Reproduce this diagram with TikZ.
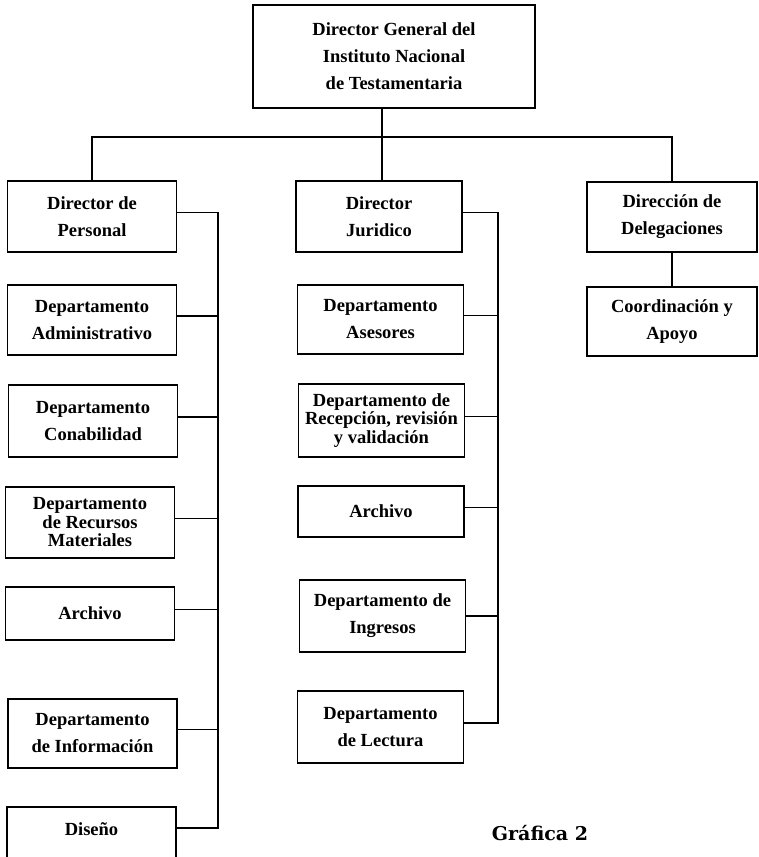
\documentclass[tikz,border=0pt]{standalone}
\usepackage{fontspec}
\setmainfont{Liberation Serif}
\newfontfamily\grafont{DejaVu Serif}
\begin{document}
\begin{tikzpicture}[x=1pt,y=-1pt,
  box/.style={draw, line width=1.5pt, inner sep=0pt, outer sep=0pt, align=center,
    font=\bfseries\fontsize{18.5}{27}\selectfont},
  tight/.style={font=\bfseries\fontsize{18.5}{18.5}\selectfont},
  link/.style={line width=1.5pt},
  lcol/.style={box, minimum width=169},
  mcol/.style={box, minimum width=166},
  rcol/.style={box, minimum width=170}]
\useasboundingbox (0,0) rectangle (758,857);
\clip (0,0) rectangle (758,857);

\node[box, minimum width=282, minimum height=103] (top) at (394,56.5)
  {Director General del\\Instituto Nacional\\de Testamentaria};

% left column
\node[lcol, minimum height=71] (per) at (92,216.5) {Director de\\Personal};
\node[lcol, minimum height=70] (adm) at (92,320) {Departamento\\Administrativo};
\node[lcol, minimum height=72] (con) at (93,421) {Departamento\\Conabilidad};
\node[lcol, tight, minimum height=71] (mat) at (90,522.5) {Departamento\\de Recursos\\Materiales};
\node[lcol, minimum height=53] (arc) at (90,613.5) {Archivo};
\node[lcol, minimum height=69] (inf) at (92.5,733.5) {Departamento\\de Información};
\node[lcol, minimum height=55] (dis) at (91.5,834.5) {};
\node[font=\bfseries\fontsize{18.5}{27}\selectfont] (distxt) at (91.5,829) {Diseño};

% middle column
\node[mcol, minimum height=71] (jur) at (379,216.5) {Director\\Juridico};
\node[mcol, minimum height=69] (ases) at (380.5,319.5) {Departamento\\Asesores};
\node[mcol, tight, minimum height=73] (rec) at (381.5,420.5) {Departamento de\\Recepción, revisión\\y validación};
\node[mcol, minimum height=51] (arc2) at (381,511.5) {Archivo};
\node[mcol, minimum height=72] (ing) at (382.5,616) {Departamento de\\Ingresos};
\node[mcol, minimum height=72] (lec) at (380.5,727) {Departamento\\de Lectura};

% right column
\node[rcol, minimum height=70] (del) at (672,217) {Dirección de\\Delegaciones};
\node[rcol, minimum height=69] (coo) at (672,321.5) {Coordinación y\\Apoyo};

% connectors
\coordinate (bus) at (382,137);
\coordinate (lv) at (218,0);
\coordinate (mv) at (498,0);
\draw[link] (top.south -| bus) -- (bus);
\draw[link] (bus) -- (jur.north -| bus);
\draw[link] (per.north) |- (bus) -| (del.north);
\draw[link] (del.south) -- (coo.north);

\draw[link] ([yshift=4pt]per.east) -- ([yshift=4pt]per.east -| lv)
  -- ([yshift=6.5pt]dis.east -| lv) -- ([yshift=6.5pt]dis.east);
\foreach \n in {adm,con,mat,arc,inf}
  \draw[link] ([yshift=4pt]\n.east) -- ([yshift=4pt]\n.east -| lv);

\draw[link] ([yshift=4pt]jur.east) -- ([yshift=4pt]jur.east -| mv)
  -- ([yshift=4pt]lec.east -| mv) -- ([yshift=4pt]lec.east);
\foreach \n in {ases,rec,arc2}
  \draw[link] ([yshift=4pt]\n.east) -- ([yshift=4pt]\n.east -| mv);
\draw[link] (ing.east) -- (ing.east -| mv);

\node[font=\grafont\bfseries\fontsize{19}{22}\selectfont] (gra) at (540,833) {Gráfica 2};
\end{tikzpicture}
\end{document}
